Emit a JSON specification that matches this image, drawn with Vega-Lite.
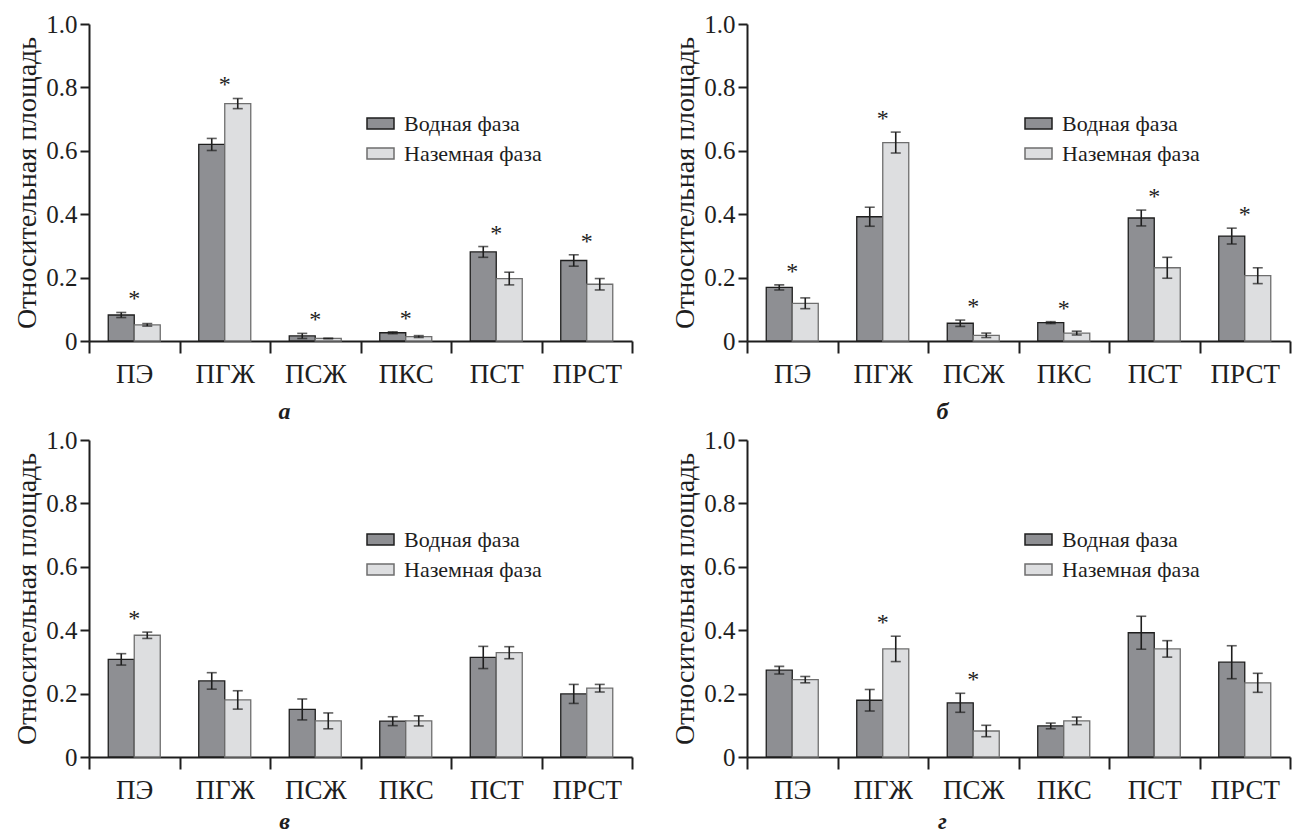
{
  "$schema": "https://vega.github.io/schema/vega-lite/v6.json",
  "background": "white",
  "padding": {"left": 13, "top": 12, "right": 3, "bottom": 0},
  "datasets": {
    "main": [
      {"panel": "а", "cat": "ПЭ", "phase": "Водная фаза", "value": 0.082, "err": 0.008, "sig": true},
      {"panel": "а", "cat": "ПЭ", "phase": "Наземная фаза", "value": 0.051, "err": 0.004, "sig": true},
      {"panel": "а", "cat": "ПГЖ", "phase": "Водная фаза", "value": 0.620, "err": 0.019, "sig": true},
      {"panel": "а", "cat": "ПГЖ", "phase": "Наземная фаза", "value": 0.749, "err": 0.016, "sig": true},
      {"panel": "а", "cat": "ПСЖ", "phase": "Водная фаза", "value": 0.016, "err": 0.008, "sig": true},
      {"panel": "а", "cat": "ПСЖ", "phase": "Наземная фаза", "value": 0.008, "err": 0.001, "sig": true},
      {"panel": "а", "cat": "ПКС", "phase": "Водная фаза", "value": 0.026, "err": 0.003, "sig": true},
      {"panel": "а", "cat": "ПКС", "phase": "Наземная фаза", "value": 0.014, "err": 0.003, "sig": true},
      {"panel": "а", "cat": "ПСТ", "phase": "Водная фаза", "value": 0.281, "err": 0.017, "sig": true},
      {"panel": "а", "cat": "ПСТ", "phase": "Наземная фаза", "value": 0.197, "err": 0.020, "sig": true},
      {"panel": "а", "cat": "ПРСТ", "phase": "Водная фаза", "value": 0.254, "err": 0.018, "sig": true},
      {"panel": "а", "cat": "ПРСТ", "phase": "Наземная фаза", "value": 0.179, "err": 0.018, "sig": true},

      {"panel": "б", "cat": "ПЭ", "phase": "Водная фаза", "value": 0.169, "err": 0.008, "sig": true},
      {"panel": "б", "cat": "ПЭ", "phase": "Наземная фаза", "value": 0.119, "err": 0.017, "sig": true},
      {"panel": "б", "cat": "ПГЖ", "phase": "Водная фаза", "value": 0.392, "err": 0.030, "sig": true},
      {"panel": "б", "cat": "ПГЖ", "phase": "Наземная фаза", "value": 0.626, "err": 0.033, "sig": true},
      {"panel": "б", "cat": "ПСЖ", "phase": "Водная фаза", "value": 0.056, "err": 0.010, "sig": true},
      {"panel": "б", "cat": "ПСЖ", "phase": "Наземная фаза", "value": 0.018, "err": 0.007, "sig": true},
      {"panel": "б", "cat": "ПКС", "phase": "Водная фаза", "value": 0.058, "err": 0.003, "sig": true},
      {"panel": "б", "cat": "ПКС", "phase": "Наземная фаза", "value": 0.025, "err": 0.006, "sig": true},
      {"panel": "б", "cat": "ПСТ", "phase": "Водная фаза", "value": 0.388, "err": 0.025, "sig": true},
      {"panel": "б", "cat": "ПСТ", "phase": "Наземная фаза", "value": 0.231, "err": 0.033, "sig": true},
      {"panel": "б", "cat": "ПРСТ", "phase": "Водная фаза", "value": 0.331, "err": 0.025, "sig": true},
      {"panel": "б", "cat": "ПРСТ", "phase": "Наземная фаза", "value": 0.206, "err": 0.025, "sig": true},

      {"panel": "в", "cat": "ПЭ", "phase": "Водная фаза", "value": 0.308, "err": 0.018, "sig": true},
      {"panel": "в", "cat": "ПЭ", "phase": "Наземная фаза", "value": 0.384, "err": 0.010, "sig": true},
      {"panel": "в", "cat": "ПГЖ", "phase": "Водная фаза", "value": 0.240, "err": 0.026, "sig": false},
      {"panel": "в", "cat": "ПГЖ", "phase": "Наземная фаза", "value": 0.180, "err": 0.029, "sig": false},
      {"panel": "в", "cat": "ПСЖ", "phase": "Водная фаза", "value": 0.150, "err": 0.033, "sig": false},
      {"panel": "в", "cat": "ПСЖ", "phase": "Наземная фаза", "value": 0.114, "err": 0.025, "sig": false},
      {"panel": "в", "cat": "ПКС", "phase": "Водная фаза", "value": 0.113, "err": 0.014, "sig": false},
      {"panel": "в", "cat": "ПКС", "phase": "Наземная фаза", "value": 0.114, "err": 0.016, "sig": false},
      {"panel": "в", "cat": "ПСТ", "phase": "Водная фаза", "value": 0.314, "err": 0.035, "sig": false},
      {"panel": "в", "cat": "ПСТ", "phase": "Наземная фаза", "value": 0.329, "err": 0.019, "sig": false},
      {"panel": "в", "cat": "ПРСТ", "phase": "Водная фаза", "value": 0.199, "err": 0.030, "sig": false},
      {"panel": "в", "cat": "ПРСТ", "phase": "Наземная фаза", "value": 0.217, "err": 0.012, "sig": false},

      {"panel": "г", "cat": "ПЭ", "phase": "Водная фаза", "value": 0.274, "err": 0.012, "sig": false},
      {"panel": "г", "cat": "ПЭ", "phase": "Наземная фаза", "value": 0.244, "err": 0.010, "sig": false},
      {"panel": "г", "cat": "ПГЖ", "phase": "Водная фаза", "value": 0.179, "err": 0.034, "sig": true},
      {"panel": "г", "cat": "ПГЖ", "phase": "Наземная фаза", "value": 0.341, "err": 0.040, "sig": true},
      {"panel": "г", "cat": "ПСЖ", "phase": "Водная фаза", "value": 0.171, "err": 0.030, "sig": true},
      {"panel": "г", "cat": "ПСЖ", "phase": "Наземная фаза", "value": 0.082, "err": 0.018, "sig": true},
      {"panel": "г", "cat": "ПКС", "phase": "Водная фаза", "value": 0.098, "err": 0.009, "sig": false},
      {"panel": "г", "cat": "ПКС", "phase": "Наземная фаза", "value": 0.114, "err": 0.012, "sig": false},
      {"panel": "г", "cat": "ПСТ", "phase": "Водная фаза", "value": 0.392, "err": 0.052, "sig": false},
      {"panel": "г", "cat": "ПСТ", "phase": "Наземная фаза", "value": 0.341, "err": 0.026, "sig": false},
      {"panel": "г", "cat": "ПРСТ", "phase": "Водная фаза", "value": 0.299, "err": 0.052, "sig": false},
      {"panel": "г", "cat": "ПРСТ", "phase": "Наземная фаза", "value": 0.234, "err": 0.030, "sig": false}
    ]
  },
  "data": {"name": "main"},
  "columns": 2,
  "spacing": {"row": 4, "column": 38},
  "resolve": {"scale": {"fill": "independent", "stroke": "independent", "x": "independent", "y": "independent"}, "legend": {"fill": "independent", "stroke": "independent"}},
  "concat": [
    {
      "width": 543, "height": 317,
      "title": {"text": "а", "orient": "bottom", "anchor": "middle", "frame": "group", "dx": -76, "offset": 13},
      "transform": [{"filter": "datum.panel === 'а'"}, {"calculate": "datum.value - datum.err", "as": "lo"}, {"calculate": "datum.value + datum.err", "as": "hi"}],
      "layer": [
        {"mark": {"type": "bar", "strokeWidth": 1.3},
         "encoding": {
           "x": {"field": "cat", "type": "nominal", "sort": ["ПЭ","ПГЖ","ПСЖ","ПКС","ПСТ","ПРСТ"], "scale": {"paddingInner": 0, "paddingOuter": 0}, "axis": {"title": null, "labelAngle": 0, "tickBand": "extent"}},
           "xOffset": {"field": "phase", "type": "nominal", "scale": {"paddingInner": 0, "paddingOuter": 0.74}},
           "y": {"field": "value", "type": "quantitative", "scale": {"domain": [0, 1], "nice": false}, "axis": {"title": "Относительная площадь", "values": [0, 0.2, 0.4, 0.6, 0.8, 1], "labelExpr": "datum.value === 0 ? '0' : format(datum.value, '.1f')"}},
           "fill": {"field": "phase", "type": "nominal", "title": null, "scale": {"domain": ["Водная фаза", "Наземная фаза"], "range": ["#8e8f93", "#dddee0"]}, "legend": {"orient": "none", "legendX": 277, "legendY": 85}},
           "stroke": {"field": "phase", "type": "nominal", "title": null, "scale": {"domain": ["Водная фаза", "Наземная фаза"], "range": ["#1e1e1e", "#6e6e6e"]}, "legend": {"orient": "none", "legendX": 277, "legendY": 85}}
         }},
        {"mark": {"type": "rule", "color": "#1e1e1e", "strokeWidth": 1.6},
         "encoding": {"x": {"field": "cat", "type": "nominal", "sort": ["ПЭ","ПГЖ","ПСЖ","ПКС","ПСТ","ПРСТ"]}, "xOffset": {"field": "phase", "type": "nominal"}, "y": {"field": "lo", "type": "quantitative"}, "y2": {"field": "hi"}}},
        {"mark": {"type": "tick", "color": "#1e1e1e", "size": 10, "thickness": 1.6, "orient": "horizontal"},
         "encoding": {"x": {"field": "cat", "type": "nominal", "sort": ["ПЭ","ПГЖ","ПСЖ","ПКС","ПСТ","ПРСТ"]}, "xOffset": {"field": "phase", "type": "nominal"}, "y": {"field": "lo", "type": "quantitative"}}},
        {"mark": {"type": "tick", "color": "#1e1e1e", "size": 10, "thickness": 1.6, "orient": "horizontal"},
         "encoding": {"x": {"field": "cat", "type": "nominal", "sort": ["ПЭ","ПГЖ","ПСЖ","ПКС","ПСТ","ПРСТ"]}, "xOffset": {"field": "phase", "type": "nominal"}, "y": {"field": "hi", "type": "quantitative"}}},
        {"transform": [{"filter": "datum.sig"}, {"aggregate": [{"op": "max", "field": "hi", "as": "top"}], "groupby": ["cat"]}],
         "mark": {"type": "text", "text": "*", "font": "Liberation Serif, serif", "fontSize": 24, "fill": "#1e1e1e", "baseline": "alphabetic", "dy": -6},
         "encoding": {"x": {"field": "cat", "type": "nominal", "sort": ["ПЭ","ПГЖ","ПСЖ","ПКС","ПСТ","ПРСТ"]}, "y": {"field": "top", "type": "quantitative"}}}
      ]
    },
    {
      "width": 543, "height": 317,
      "title": {"text": "б", "orient": "bottom", "anchor": "middle", "frame": "group", "dx": -76, "offset": 13},
      "transform": [{"filter": "datum.panel === 'б'"}, {"calculate": "datum.value - datum.err", "as": "lo"}, {"calculate": "datum.value + datum.err", "as": "hi"}],
      "layer": [
        {"mark": {"type": "bar", "strokeWidth": 1.3},
         "encoding": {
           "x": {"field": "cat", "type": "nominal", "sort": ["ПЭ","ПГЖ","ПСЖ","ПКС","ПСТ","ПРСТ"], "scale": {"paddingInner": 0, "paddingOuter": 0}, "axis": {"title": null, "labelAngle": 0, "tickBand": "extent"}},
           "xOffset": {"field": "phase", "type": "nominal", "scale": {"paddingInner": 0, "paddingOuter": 0.74}},
           "y": {"field": "value", "type": "quantitative", "scale": {"domain": [0, 1], "nice": false}, "axis": {"title": "Относительная площадь", "values": [0, 0.2, 0.4, 0.6, 0.8, 1], "labelExpr": "datum.value === 0 ? '0' : format(datum.value, '.1f')"}},
           "fill": {"field": "phase", "type": "nominal", "title": null, "scale": {"domain": ["Водная фаза", "Наземная фаза"], "range": ["#8e8f93", "#dddee0"]}, "legend": {"orient": "none", "legendX": 277, "legendY": 85}},
           "stroke": {"field": "phase", "type": "nominal", "title": null, "scale": {"domain": ["Водная фаза", "Наземная фаза"], "range": ["#1e1e1e", "#6e6e6e"]}, "legend": {"orient": "none", "legendX": 277, "legendY": 85}}
         }},
        {"mark": {"type": "rule", "color": "#1e1e1e", "strokeWidth": 1.6},
         "encoding": {"x": {"field": "cat", "type": "nominal", "sort": ["ПЭ","ПГЖ","ПСЖ","ПКС","ПСТ","ПРСТ"]}, "xOffset": {"field": "phase", "type": "nominal"}, "y": {"field": "lo", "type": "quantitative"}, "y2": {"field": "hi"}}},
        {"mark": {"type": "tick", "color": "#1e1e1e", "size": 10, "thickness": 1.6, "orient": "horizontal"},
         "encoding": {"x": {"field": "cat", "type": "nominal", "sort": ["ПЭ","ПГЖ","ПСЖ","ПКС","ПСТ","ПРСТ"]}, "xOffset": {"field": "phase", "type": "nominal"}, "y": {"field": "lo", "type": "quantitative"}}},
        {"mark": {"type": "tick", "color": "#1e1e1e", "size": 10, "thickness": 1.6, "orient": "horizontal"},
         "encoding": {"x": {"field": "cat", "type": "nominal", "sort": ["ПЭ","ПГЖ","ПСЖ","ПКС","ПСТ","ПРСТ"]}, "xOffset": {"field": "phase", "type": "nominal"}, "y": {"field": "hi", "type": "quantitative"}}},
        {"transform": [{"filter": "datum.sig"}, {"aggregate": [{"op": "max", "field": "hi", "as": "top"}], "groupby": ["cat"]}],
         "mark": {"type": "text", "text": "*", "font": "Liberation Serif, serif", "fontSize": 24, "fill": "#1e1e1e", "baseline": "alphabetic", "dy": -6},
         "encoding": {"x": {"field": "cat", "type": "nominal", "sort": ["ПЭ","ПГЖ","ПСЖ","ПКС","ПСТ","ПРСТ"]}, "y": {"field": "top", "type": "quantitative"}}}
      ]
    },
    {
      "width": 543, "height": 317,
      "title": {"text": "в", "orient": "bottom", "anchor": "middle", "frame": "group", "dx": -76, "offset": 7},
      "transform": [{"filter": "datum.panel === 'в'"}, {"calculate": "datum.value - datum.err", "as": "lo"}, {"calculate": "datum.value + datum.err", "as": "hi"}],
      "layer": [
        {"mark": {"type": "bar", "strokeWidth": 1.3},
         "encoding": {
           "x": {"field": "cat", "type": "nominal", "sort": ["ПЭ","ПГЖ","ПСЖ","ПКС","ПСТ","ПРСТ"], "scale": {"paddingInner": 0, "paddingOuter": 0}, "axis": {"title": null, "labelAngle": 0, "tickBand": "extent"}},
           "xOffset": {"field": "phase", "type": "nominal", "scale": {"paddingInner": 0, "paddingOuter": 0.74}},
           "y": {"field": "value", "type": "quantitative", "scale": {"domain": [0, 1], "nice": false}, "axis": {"title": "Относительная площадь", "values": [0, 0.2, 0.4, 0.6, 0.8, 1], "labelExpr": "datum.value === 0 ? '0' : format(datum.value, '.1f')"}},
           "fill": {"field": "phase", "type": "nominal", "title": null, "scale": {"domain": ["Водная фаза", "Наземная фаза"], "range": ["#8e8f93", "#dddee0"]}, "legend": {"orient": "none", "legendX": 277, "legendY": 85}},
           "stroke": {"field": "phase", "type": "nominal", "title": null, "scale": {"domain": ["Водная фаза", "Наземная фаза"], "range": ["#1e1e1e", "#6e6e6e"]}, "legend": {"orient": "none", "legendX": 277, "legendY": 85}}
         }},
        {"mark": {"type": "rule", "color": "#1e1e1e", "strokeWidth": 1.6},
         "encoding": {"x": {"field": "cat", "type": "nominal", "sort": ["ПЭ","ПГЖ","ПСЖ","ПКС","ПСТ","ПРСТ"]}, "xOffset": {"field": "phase", "type": "nominal"}, "y": {"field": "lo", "type": "quantitative"}, "y2": {"field": "hi"}}},
        {"mark": {"type": "tick", "color": "#1e1e1e", "size": 10, "thickness": 1.6, "orient": "horizontal"},
         "encoding": {"x": {"field": "cat", "type": "nominal", "sort": ["ПЭ","ПГЖ","ПСЖ","ПКС","ПСТ","ПРСТ"]}, "xOffset": {"field": "phase", "type": "nominal"}, "y": {"field": "lo", "type": "quantitative"}}},
        {"mark": {"type": "tick", "color": "#1e1e1e", "size": 10, "thickness": 1.6, "orient": "horizontal"},
         "encoding": {"x": {"field": "cat", "type": "nominal", "sort": ["ПЭ","ПГЖ","ПСЖ","ПКС","ПСТ","ПРСТ"]}, "xOffset": {"field": "phase", "type": "nominal"}, "y": {"field": "hi", "type": "quantitative"}}},
        {"transform": [{"filter": "datum.sig"}, {"aggregate": [{"op": "max", "field": "hi", "as": "top"}], "groupby": ["cat"]}],
         "mark": {"type": "text", "text": "*", "font": "Liberation Serif, serif", "fontSize": 24, "fill": "#1e1e1e", "baseline": "alphabetic", "dy": -6},
         "encoding": {"x": {"field": "cat", "type": "nominal", "sort": ["ПЭ","ПГЖ","ПСЖ","ПКС","ПСТ","ПРСТ"]}, "y": {"field": "top", "type": "quantitative"}}}
      ]
    },
    {
      "width": 543, "height": 317,
      "title": {"text": "г", "orient": "bottom", "anchor": "middle", "frame": "group", "dx": -76, "offset": 7},
      "transform": [{"filter": "datum.panel === 'г'"}, {"calculate": "datum.value - datum.err", "as": "lo"}, {"calculate": "datum.value + datum.err", "as": "hi"}],
      "layer": [
        {"mark": {"type": "bar", "strokeWidth": 1.3},
         "encoding": {
           "x": {"field": "cat", "type": "nominal", "sort": ["ПЭ","ПГЖ","ПСЖ","ПКС","ПСТ","ПРСТ"], "scale": {"paddingInner": 0, "paddingOuter": 0}, "axis": {"title": null, "labelAngle": 0, "tickBand": "extent"}},
           "xOffset": {"field": "phase", "type": "nominal", "scale": {"paddingInner": 0, "paddingOuter": 0.74}},
           "y": {"field": "value", "type": "quantitative", "scale": {"domain": [0, 1], "nice": false}, "axis": {"title": "Относительная площадь", "values": [0, 0.2, 0.4, 0.6, 0.8, 1], "labelExpr": "datum.value === 0 ? '0' : format(datum.value, '.1f')"}},
           "fill": {"field": "phase", "type": "nominal", "title": null, "scale": {"domain": ["Водная фаза", "Наземная фаза"], "range": ["#8e8f93", "#dddee0"]}, "legend": {"orient": "none", "legendX": 277, "legendY": 85}},
           "stroke": {"field": "phase", "type": "nominal", "title": null, "scale": {"domain": ["Водная фаза", "Наземная фаза"], "range": ["#1e1e1e", "#6e6e6e"]}, "legend": {"orient": "none", "legendX": 277, "legendY": 85}}
         }},
        {"mark": {"type": "rule", "color": "#1e1e1e", "strokeWidth": 1.6},
         "encoding": {"x": {"field": "cat", "type": "nominal", "sort": ["ПЭ","ПГЖ","ПСЖ","ПКС","ПСТ","ПРСТ"]}, "xOffset": {"field": "phase", "type": "nominal"}, "y": {"field": "lo", "type": "quantitative"}, "y2": {"field": "hi"}}},
        {"mark": {"type": "tick", "color": "#1e1e1e", "size": 10, "thickness": 1.6, "orient": "horizontal"},
         "encoding": {"x": {"field": "cat", "type": "nominal", "sort": ["ПЭ","ПГЖ","ПСЖ","ПКС","ПСТ","ПРСТ"]}, "xOffset": {"field": "phase", "type": "nominal"}, "y": {"field": "lo", "type": "quantitative"}}},
        {"mark": {"type": "tick", "color": "#1e1e1e", "size": 10, "thickness": 1.6, "orient": "horizontal"},
         "encoding": {"x": {"field": "cat", "type": "nominal", "sort": ["ПЭ","ПГЖ","ПСЖ","ПКС","ПСТ","ПРСТ"]}, "xOffset": {"field": "phase", "type": "nominal"}, "y": {"field": "hi", "type": "quantitative"}}},
        {"transform": [{"filter": "datum.sig"}, {"aggregate": [{"op": "max", "field": "hi", "as": "top"}], "groupby": ["cat"]}],
         "mark": {"type": "text", "text": "*", "font": "Liberation Serif, serif", "fontSize": 24, "fill": "#1e1e1e", "baseline": "alphabetic", "dy": -6},
         "encoding": {"x": {"field": "cat", "type": "nominal", "sort": ["ПЭ","ПГЖ","ПСЖ","ПКС","ПСТ","ПРСТ"]}, "y": {"field": "top", "type": "quantitative"}}}
      ]
    }
  ],
  "config": {
    "view": {"stroke": null},
    "font": "Liberation Serif, serif",
    "axis": {"domainColor": "#1e1e1e", "domainWidth": 2, "tickColor": "#1e1e1e", "tickWidth": 2, "grid": false, "labelFont": "Liberation Serif, serif", "labelColor": "#1e1e1e", "titleFont": "Liberation Serif, serif", "titleColor": "#1e1e1e", "titleFontWeight": "normal", "zindex": 1},
    "axisX": {"tickSize": 12, "labelFontSize": 27, "labelPadding": 8},
    "axisY": {"tickSize": 9, "labelFontSize": 25, "labelPadding": 3, "titleFontSize": 28, "titlePadding": 4},
    "legend": {"padding": 0, "labelFont": "Liberation Serif, serif", "labelFontSize": 22, "labelColor": "#1e1e1e", "labelOffset": 9, "rowPadding": 4, "symbolType": "M-1,-0.41H1V0.41H-1Z", "symbolSize": 729, "symbolStrokeWidth": 1.5, "symbolOpacity": 1},
    "title": {"font": "Liberation Serif, serif", "fontSize": 24, "fontStyle": "italic", "fontWeight": "bold", "color": "#1e1e1e"}
  }
}
